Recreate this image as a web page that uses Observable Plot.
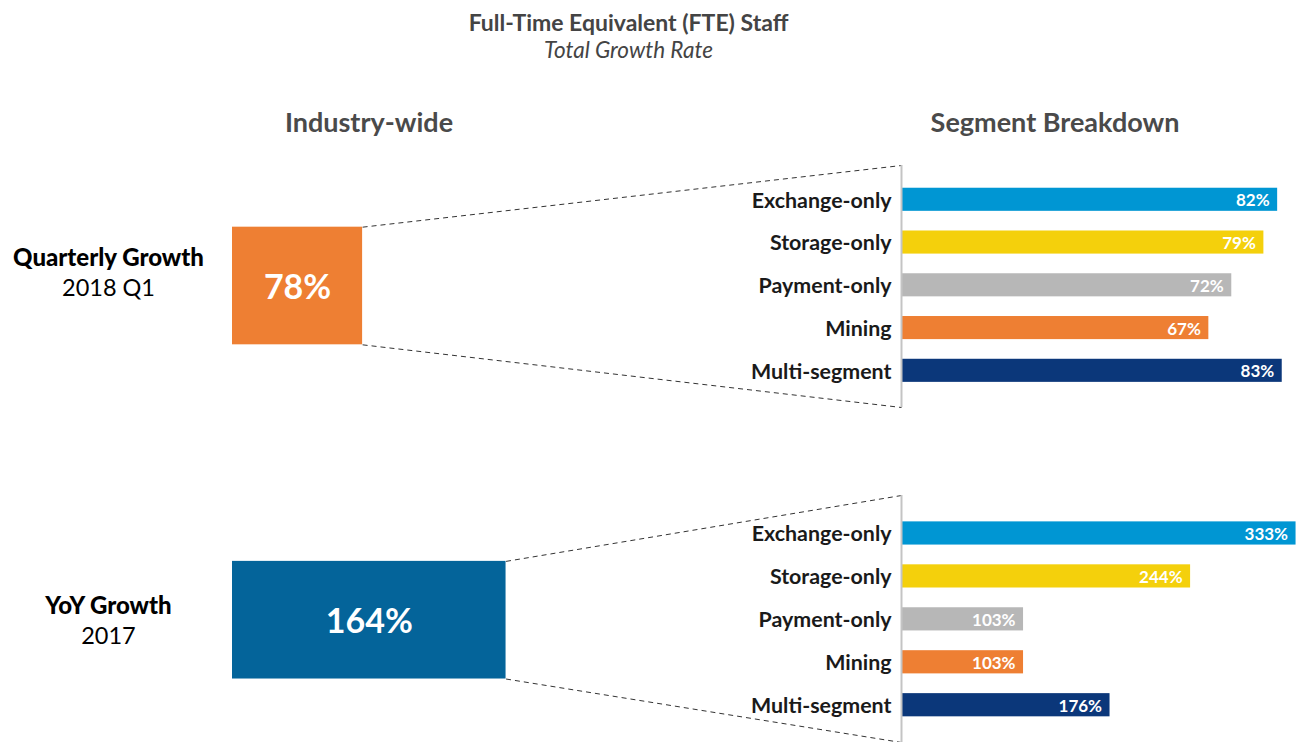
<!DOCTYPE html>
<html>
<head>
<meta charset="utf-8">
<script src="https://cdn.jsdelivr.net/npm/d3@7"></script>
<script src="https://cdn.jsdelivr.net/npm/@observablehq/plot@0.6"></script>
<style>
  html, body { margin: 0; padding: 0; background: #fff; }
  #chart { position: relative; width: 1301px; height: 742px; font-family: Lato, "Open Sans", sans-serif; overflow: hidden; }
  #chart > svg, #chart > figure { position: absolute; margin: 0; }
  .lbl { position: absolute; white-space: nowrap; transform: translateX(-50%); line-height: 1; }
</style>
</head>
<body>
<div id="chart">
  <div class="lbl" style="left:628.5px; top:11px; font-size:23px; font-weight:bold; color:#444;">Full-Time Equivalent (FTE) Staff</div>
  <div class="lbl" style="left:628.5px; top:39px; font-size:22.5px; font-style:italic; color:#444;">Total Growth Rate</div>
  <div class="lbl" style="left:369px; top:108px; font-size:27px; font-weight:bold; color:#4a4a4a;">Industry-wide</div>
  <div class="lbl" style="left:1055px; top:108px; font-size:27px; font-weight:bold; color:#4a4a4a;">Segment Breakdown</div>
</div>
<script>
// ---- data ----
const sectionLabels = ["Quarterly Growth", "YoY Growth"];
const sectionPeriods = ["2018 Q1", "2017"];
const industryValues = [78, 164];
const segments = ["Exchange-only", "Storage-only", "Payment-only", "Mining", "Multi-segment"];
const quarterlyValues = [82, 79, 72, 67, 83];
const yoyValues = [333, 244, 103, 103, 176];

// ---- styles ----
const segmentColors = ["#0096D3", "#F4D00C", "#B7B7B7", "#EE7F33", "#0B377A"];
const sectionColors = ["#EE7F33", "#04649A"];
const font = "Lato, 'Open Sans', sans-serif";

const sections = sectionLabels.map((s, i) => ({section: s, period: sectionPeriods[i], value: industryValues[i]}));
const quarterly = segments.map((s, i) => ({segment: s, value: quarterlyValues[i]}));
const yoy = segments.map((s, i) => ({segment: s, value: yoyValues[i]}));

const chart = document.getElementById("chart");

// ---- industry-wide boxes ----
const boxPlot = Plot.plot({
  width: 1301, height: 742,
  marginLeft: 108, marginRight: 0, marginTop: 0, marginBottom: 0,
  style: {background: "transparent", fontFamily: font},
  x: {domain: [0, 100], range: [232, 398.8], axis: null},
  y: {domain: sectionLabels, range: [118.4, 786.8], paddingInner: 0.648, paddingOuter: 0.324, round: false, axis: null},
  color: {domain: sectionLabels, range: sectionColors},
  marks: [
    Plot.barX(sections, {x: "value", y: "section", fill: "section"}),
    Plot.text(sections, {x: d => d.value / 2, y: "section", text: d => d.value + "%", dy: 2, fill: "white", fontSize: 34, fontWeight: "bold"}),
    Plot.text(sections.slice(0, 1), {frameAnchor: "left", y: "section", text: "section", dy: -27.5, textAnchor: "middle", fontSize: 24, fontWeight: 900, fill: "#000"}),
    Plot.text(sections.slice(0, 1), {frameAnchor: "left", y: "section", text: "period", dy: 2.5, textAnchor: "middle", fontSize: 23.5, fill: "#000"}),
    Plot.text(sections.slice(1), {frameAnchor: "left", y: "section", text: "section", dy: -13.5, textAnchor: "middle", fontSize: 24, fontWeight: 900, fill: "#000"}),
    Plot.text(sections.slice(1), {frameAnchor: "left", y: "section", text: "period", dy: 16.5, textAnchor: "middle", fontSize: 23.5, fill: "#000"})
  ]
});
boxPlot.style.left = "0px"; boxPlot.style.top = "0px";

// ---- segment bar panels ----
function barPanel(data, xmax, yRange, h) {
  return Plot.plot({
    width: 1301, height: h,
    marginLeft: 901, marginRight: 0, marginTop: 0, marginBottom: 0,
    style: {background: "transparent", fontFamily: font},
    x: {domain: [0, xmax], axis: null},
    y: {domain: segments, range: yRange, paddingInner: 0.46, paddingOuter: 0.23, round: false, axis: null, label: null},
    color: {domain: segments, range: segmentColors},
    marks: [
      Plot.barX(data, {x: "value", y: "segment", fill: "segment"}),
      Plot.text(data, {x: "value", y: "segment", text: d => d.value + "%", textAnchor: "end", dx: -8, dy: 1, fill: "white", fontSize: 17, fontWeight: "bold"}),
      Plot.axisY({tickSize: 0, tickPadding: 10, fontSize: 21.4, fontWeight: "bold", fill: "#1a1a1a", label: null, dy: 1}),
      Plot.ruleX([0], {stroke: "#c4c4c4", strokeWidth: 2})
    ]
  });
}
const topPanel = {top: 165, h: 242};
const botPanel = {top: 495, h: 247};
const qPlot = barPanel(quarterly, 87.2, [12.9, 226.7], topPanel.h);
const yPlot = barPanel(yoy, 337.6, [16.5, 231.2], botPanel.h);
qPlot.style.left = "0px"; qPlot.style.top = topPanel.top + "px";
yPlot.style.left = "0px"; yPlot.style.top = botPanel.top + "px";

// ---- dashed connectors, derived from the scales above ----
const bx = boxPlot.scale("x"), by = boxPlot.scale("y");
const panels = [[qPlot, topPanel], [yPlot, botPanel]];
const links = [];
sections.forEach((s, i) => {
  const [p, pos] = panels[i];
  const ax = p.scale("x").apply(0);
  const x1 = bx.apply(s.value);
  const yTop = by.apply(s.section);
  const yBot = yTop + by.bandwidth;
  links.push({x1, y1: yTop, x2: ax, y2: pos.top});
  links.push({x1, y1: yBot, x2: ax, y2: pos.top + pos.h});
});
const linkPlot = Plot.plot({
  width: 1301, height: 742, margin: 0,
  style: {background: "transparent"},
  x: {type: "identity", axis: null},
  y: {type: "identity", axis: null},
  marks: [
    Plot.link(links, {x1: "x1", y1: "y1", x2: "x2", y2: "y2", stroke: "#333", strokeWidth: 1, strokeDasharray: "5,4"})
  ]
});
linkPlot.style.left = "0px"; linkPlot.style.top = "0px";

chart.appendChild(linkPlot);
chart.appendChild(boxPlot);
chart.appendChild(qPlot);
chart.appendChild(yPlot);
</script>
</body>
</html>
